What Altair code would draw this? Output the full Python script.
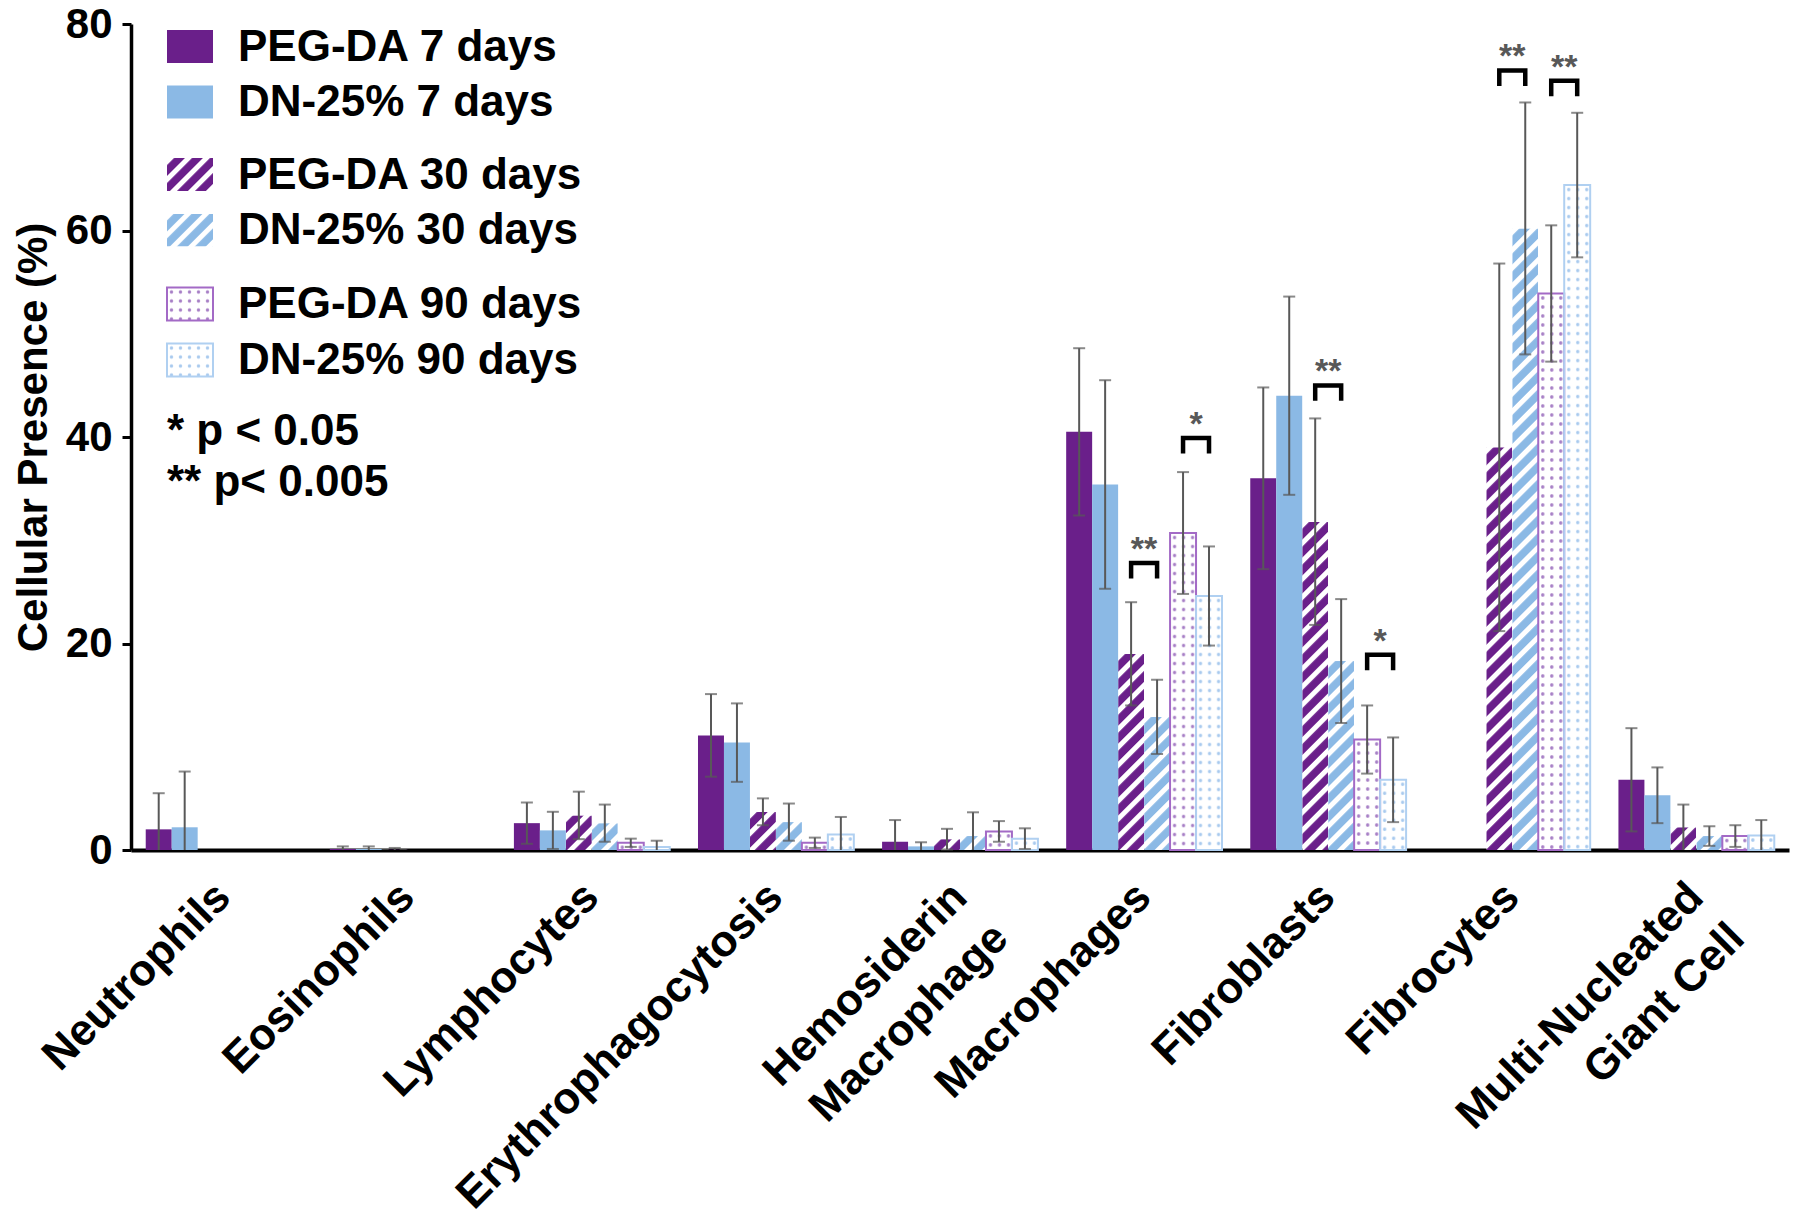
import base64
import pandas as pd
import altair as alt

# ---------------- data ----------------
categories = ["Neutrophils", "Eosinophils", "Lymphocytes", "Erythrophagocytosis",
              "Hemosiderin\nMacrophage", "Macrophages", "Fibroblasts", "Fibrocytes",
              "Multi-Nucleated\nGiant Cell"]
series = ["PEG-DA 7 days", "DN-25% 7 days", "PEG-DA 30 days", "DN-25% 30 days",
          "PEG-DA 90 days", "DN-25% 90 days"]

peg7 = [2.0, 0.1, 2.6, 11.1, 0.8, 40.5, 36.0, 0.0, 6.8]
peg7_sd = [3.5, 0.25, 2.0, 4.0, 2.1, 8.1, 8.8, None, 5.0]
dn7 = [2.2, 0.1, 1.9, 10.4, 0.35, 35.4, 44.0, 0.0, 5.3]
dn7_sd = [5.4, 0.25, 1.8, 3.8, 0.4, 10.1, 9.6, None, 2.7]
peg30 = [0.0, 0.05, 3.35, 3.7, 1.05, 19.0, 31.8, 39.0, 2.2]
peg30_sd = [None, 0.15, 2.3, 1.3, 1.0, 5.0, 10.0, 17.8, 2.2]
dn30 = [0.0, 0.0, 2.6, 2.7, 1.35, 12.9, 18.3, 60.2, 1.35]
dn30_sd = [None, None, 1.8, 1.8, 2.3, 3.6, 6.0, 12.2, 0.95]
peg90 = [0.0, 0.0, 0.7, 0.7, 1.8, 30.7, 10.7, 53.9, 1.35]
peg90_sd = [None, None, 0.4, 0.5, 1.0, 5.9, 3.3, 6.6, 1.05]
dn90 = [0.0, 0.0, 0.3, 1.5, 1.1, 24.6, 6.8, 64.4, 1.4]
dn90_sd = [None, None, 0.6, 1.7, 1.0, 4.8, 4.1, 7.0, 1.5]

sig_category = ["Macrophages", "Macrophages", "Fibroblasts", "Fibroblasts", "Fibrocytes", "Fibrocytes"]
sig_left = ["PEG-DA 30 days", "PEG-DA 90 days", "PEG-DA 30 days", "PEG-DA 90 days", "PEG-DA 30 days", "PEG-DA 90 days"]
sig_right = ["DN-25% 30 days", "DN-25% 90 days", "DN-25% 30 days", "DN-25% 90 days", "DN-25% 30 days", "DN-25% 90 days"]
sig_top = [27.8, 39.9, 45.0, 18.9, 75.5, 74.5]
sig_label = ["**", "*", "**", "*", "**", "**"]
sig_leg = 1.5

notes = ["* p < 0.05", "** p< 0.005"]

# ---------------- style ----------------
FONT = "Liberation Sans"
PURPLE = "#6a1f8a"
BLUE = "#8bb9e5"
PURPLE_EDGE = "#a36ac6"
BLUE_EDGE = "#b0d0f1"
PURPLE_DOT = "#a77fc6"
BLUE_DOT = "#a9caee"
ERR = "#585858"


def svg_uri(svg):
    return "data:image/svg+xml;base64," + base64.b64encode(svg.encode()).decode()


def hatch(color):
    s = ('<svg xmlns="http://www.w3.org/2000/svg" width="100%" height="100%">'
         '<defs><pattern id="h" patternUnits="userSpaceOnUse" width="12.7" height="12.7" '
         'patternTransform="rotate(45)">'
         f'<rect width="12.7" height="12.7" fill="{color}"/>'
         '<rect width="5" height="12.7" fill="#ffffff"/>'
         '</pattern></defs><rect width="100%" height="100%" fill="url(#h)"/></svg>')
    return svg_uri(s)


def dots(color):
    s = ('<svg xmlns="http://www.w3.org/2000/svg" width="100%" height="100%">'
         '<defs><pattern id="d" patternUnits="userSpaceOnUse" width="9" height="9">'
         f'<circle cx="4.5" cy="4.5" r="1.7" fill="{color}"/></pattern></defs>'
         '<rect width="100%" height="100%" fill="#ffffff"/>'
         '<rect width="100%" height="100%" fill="url(#d)"/></svg>')
    return svg_uri(s)


pattern_url = {
    "PEG-DA 30 days": hatch(PURPLE),
    "DN-25% 30 days": hatch(BLUE),
    "PEG-DA 90 days": dots(PURPLE_DOT),
    "DN-25% 90 days": dots(BLUE_DOT),
}
fill_range = [PURPLE, BLUE, "transparent", "transparent", "transparent", "transparent"]
stroke_range = ["transparent", "transparent", "transparent", "transparent", PURPLE_EDGE, BLUE_EDGE]

# ---------------- tables ----------------
means = [peg7, dn7, peg30, dn30, peg90, dn90]
sds = [peg7_sd, dn7_sd, peg30_sd, dn30_sd, peg90_sd, dn90_sd]
rows = []
for s, mv, sv in zip(series, means, sds):
    for c, v, sd in zip(categories, mv, sv):
        rows.append({"category": c, "series": s, "value": v, "sd": sd})
df = pd.DataFrame(rows)

bars_df = df[df["value"] > 0].copy()
img_df = bars_df[bars_df["series"].isin(list(pattern_url))].copy()
img_df["url"] = img_df["series"].map(pattern_url)

err_df = df[df["sd"].notna()].copy()
err_df["sd"] = err_df["sd"].astype(float)
err_df["lo"] = (err_df["value"] - err_df["sd"]).clip(lower=0)
err_df["hi"] = err_df["value"] + err_df["sd"]
lowcap_df = err_df[err_df["value"] - err_df["sd"] > 0].copy()

br_rows = []
for i, (c, a, b, t) in enumerate(zip(sig_category, sig_left, sig_right, sig_top)):
    for k, (s, v) in enumerate([(a, t - sig_leg), (a, t), (b, t), (b, t - sig_leg)]):
        br_rows.append({"category": c, "series": s, "value": v, "bid": i, "ord": k})
br_df = pd.DataFrame(br_rows)
star_df = pd.DataFrame({"category": sig_category, "series": sig_left, "value": sig_top, "label": sig_label})

# ---------------- encodings ----------------
xaxis = alt.Axis(title=None, ticks=False, domainColor="black", domainWidth=4,
                 labelAngle=315, labelAlign="right", labelBaseline="middle",
                 labelFont=FONT, labelFontSize=44, labelFontWeight="bold", labelColor="black",
                 labelPadding=40, labelLimit=1000, labelOverlap=False,
                 labelExpr="split(datum.label, '\\n')", labelLineHeight=58)
yaxis = alt.Axis(title="Cellular Presence (%)", values=[0, 20, 40, 60, 80], grid=False,
                 domainColor="black", domainWidth=3.5, tickColor="black", tickWidth=3, tickSize=9,
                 labelFont=FONT, labelFontSize=42, labelFontWeight="bold", labelColor="black",
                 labelPadding=10, titleFont=FONT, titleFontSize=42, titleFontWeight="bold",
                 titleColor="black", titlePadding=10)
xscale = alt.Scale(domain=categories, paddingInner=0.1535, paddingOuter=0.08)
xoscale = alt.Scale(domain=series, paddingInner=0, paddingOuter=0)
yscale = alt.Scale(domain=[0, 80], nice=False)


def X():
    return alt.X("category:N", sort=categories, scale=xscale, axis=xaxis)


def XO():
    return alt.XOffset("series:N", sort=series, scale=xoscale)


def Y(field):
    return alt.Y(f"{field}:Q", scale=yscale, axis=yaxis)


patterns = alt.Chart(img_df).mark_image(aspect=False).encode(
    x=X(), xOffset=XO(), y=Y("value"), y2=alt.datum(0), url=alt.Url("url:N"))

bars = alt.Chart(bars_df).mark_bar(strokeWidth=2).encode(
    x=X(), xOffset=XO(), y=Y("value"),
    fill=alt.Fill("series:N", scale=alt.Scale(domain=series, range=fill_range), legend=None),
    stroke=alt.Stroke("series:N", scale=alt.Scale(domain=series, range=stroke_range), legend=None))

err = alt.Chart(err_df).mark_rule(color=ERR, strokeWidth=2).encode(
    x=X(), xOffset=XO(), y=Y("lo"), y2=alt.Y2("hi:Q"))
cap_hi = alt.Chart(err_df).mark_tick(color=ERR, thickness=2, size=12, orient="horizontal").encode(
    x=X(), xOffset=XO(), y=Y("hi"))
cap_lo = alt.Chart(lowcap_df).mark_tick(color=ERR, thickness=2, size=12, orient="horizontal").encode(
    x=X(), xOffset=XO(), y=Y("lo"))

brackets = alt.Chart(br_df).mark_line(color="black", strokeWidth=4.5, strokeJoin="miter",
                                      strokeCap="butt").encode(
    x=X(), xOffset=XO(), y=Y("value"), detail="bid:N", order="ord:Q")
stars = alt.Chart(star_df).mark_text(font=FONT, fontSize=34, fontWeight="bold", color=ERR,
                                     dx=13, dy=-3, baseline="alphabetic", align="center").encode(
    x=X(), xOffset=XO(), y=Y("value"), text="label:N")

# ---------------- manual legend (pattern swatches) ----------------
one = pd.DataFrame({"k": [0]})
sw_x0, sw_x1, sw_h = 36, 82, 33
txt_x = 107
row_y = [22.5, 78, 150.5, 206, 280, 336]
legend_layers = []
for i, s in enumerate(series):
    yc = row_y[i]
    pos = dict(x=alt.value(sw_x0), x2=alt.value(sw_x1), y=alt.value(yc - sw_h / 2),
               y2=alt.value(yc + sw_h / 2))
    if s in pattern_url:
        legend_layers.append(alt.Chart(one).mark_image(aspect=False).encode(
            url=alt.value(pattern_url[s]), **pos))
    legend_layers.append(alt.Chart(one).mark_rect(
        fill=fill_range[i], stroke=stroke_range[i], strokeWidth=2).encode(**pos))
    legend_layers.append(alt.Chart(one).mark_text(
        font=FONT, fontSize=44, fontWeight="bold", color="black", align="left",
        baseline="middle").encode(x=alt.value(txt_x), y=alt.value(yc + 1), text=alt.value(s)))
note_y = [408, 459]
for t, yc in zip(notes, note_y):
    legend_layers.append(alt.Chart(one).mark_text(
        font=FONT, fontSize=44, fontWeight="bold", color="black", align="left",
        baseline="middle").encode(x=alt.value(sw_x0), y=alt.value(yc), text=alt.value(t)))

chart = alt.layer(patterns, bars, err, cap_hi, cap_lo, brackets, stars, *legend_layers).properties(
    width=1658, height=826,
    autosize=alt.AutoSizeParams(type="none"),
    padding={"left": 123, "top": 16, "right": 3, "bottom": 370},
).configure_view(stroke="transparent")

chart.save("out.html", embed_options={"renderer": "svg", "actions": False})
